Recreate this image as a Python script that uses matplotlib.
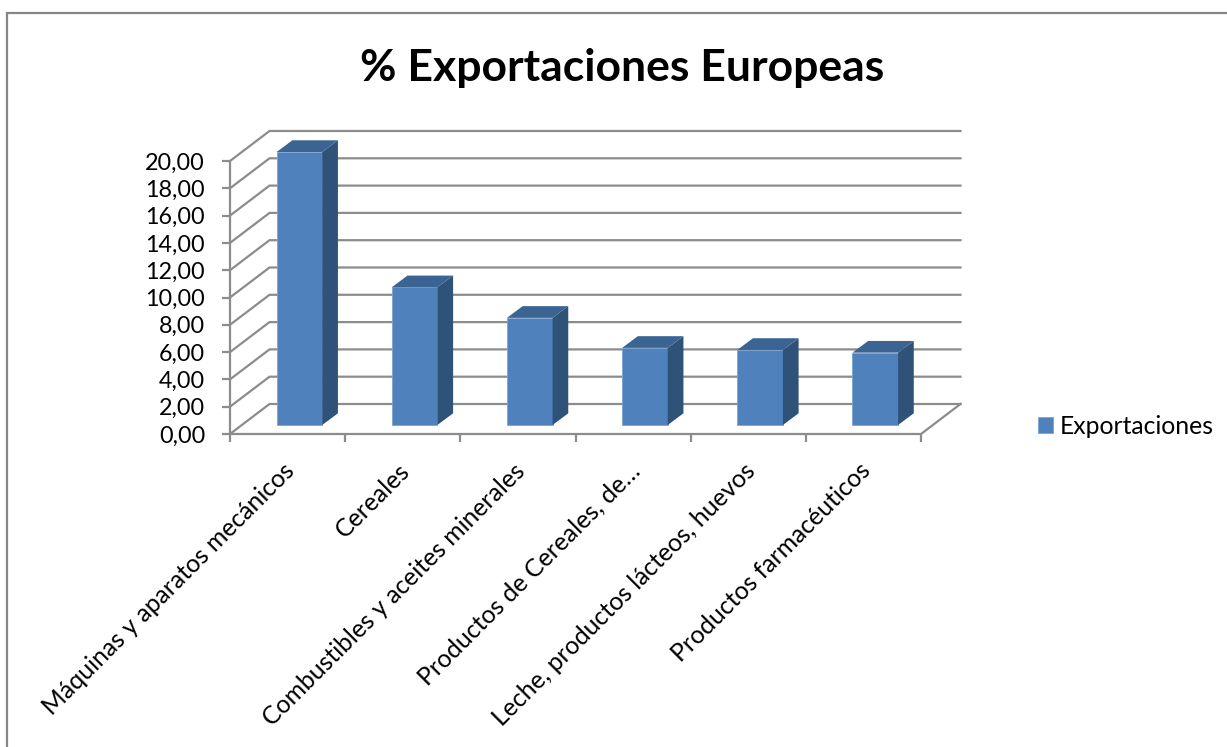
import numpy as np
from matplotlib import pyplot as plt
from matplotlib.patches import Rectangle
from matplotlib.transforms import ScaledTranslation

categories = ['Máquinas y aparatos mecánicos', 'Cereales', 'Combustibles y aceites minerales',
              'Productos de Cereales, de…', 'Leche, productos lácteos, huevos', 'Productos farmacéuticos']
values = [20.0, 10.09, 7.85, 5.65, 5.5, 5.3]
y_ticks = [0, 2, 4, 6, 8, 10, 12, 14, 16, 18, 20]
y_labels = ['0,00', '2,00', '4,00', '6,00', '8,00', '10,00', '12,00', '14,00', '16,00', '18,00', '20,00']

W, H = 1227, 747
GREY = '#8c8c8c'
FRONT = '#4f81bd'
SIDE = '#2f5279'
TOP = '#3b6493'

plt.rcParams['font.family'] = ['Lato', 'DejaVu Sans']

fig = plt.figure(figsize=(W / 100, H / 100), dpi=100)

# outer chart frame
fig.add_artist(Rectangle((6.5 / W, -0.02), (W + 20) / W, 1.02 - 12.5 / H, transform=fig.transFigure,
                         fill=False, ec='#868686', lw=1.6))

# front plane is x 230..921 px, y 434..161 px, depth goes off to the upper right
left, right, y0_px, top_px = 230, 961, 434, 131
ax = fig.add_axes([left / W, 1 - y0_px / H, (right - left) / W, (y0_px - top_px) / H])
cat_px = (921 - 230) / 6
unit_px = 27.3 / 2
depth_x = 39.5 / cat_px
depth_y = 30 / unit_px
ax.set_xlim(0, (right - left) / cat_px)
ax.set_ylim(0, (y0_px - top_px) / unit_px)
ax.patch.set_alpha(0)
for s in ax.spines.values():
    s.set_visible(False)

# walls and floor
n = len(categories)
for v in y_ticks:
    ax.plot([0, depth_x, n + depth_x], [v, v + depth_y, v + depth_y], color=GREY, lw=1.6,
            clip_on=False, solid_joinstyle='miter', zorder=1)
ax.plot([0, 0], [0, y_ticks[-1]], color=GREY, lw=1.6, clip_on=False, zorder=1)
ax.plot([0, n, n + depth_x], [0, 0, depth_y], color=GREY, lw=1.6, clip_on=False, zorder=1)

# bars, sit 0.3 of the way into the depth
bar_w = 45.6 / cat_px
start = 0.3
bar_dx = 15.7 / cat_px
bar_dy = 11.7 / unit_px
x_pos = np.arange(n) + 0.5 + start * depth_x
base = start * depth_y
bars = ax.bar(x_pos, values, width=bar_w, bottom=base, color=FRONT, ec='#7ea3d0', lw=0.6,
              label='Exportaciones', zorder=3, clip_on=False)
for x, v in zip(x_pos, values):
    x1 = x + bar_w / 2
    x0 = x - bar_w / 2
    t = base + v
    ax.fill([x1, x1 + bar_dx, x1 + bar_dx, x1], [base, base + bar_dy, t + bar_dy, t],
            color=SIDE, lw=0, zorder=3, clip_on=False)
    ax.fill([x0, x1, x1 + bar_dx, x0 + bar_dx], [t, t, t + bar_dy, t + bar_dy],
            color=TOP, lw=0, zorder=3, clip_on=False)

ax.set_yticks(y_ticks, y_labels, fontsize=16.8)
ax.tick_params(axis='y', length=6, width=1.6, color=GREY, pad=12, labelcolor='black')
ax.set_xticks(np.arange(n + 1), [''] * (n + 1))
ax.tick_params(axis='x', which='major', length=6, width=1.6, color=GREY)
ax.set_xticks(np.arange(n) + 0.5, categories, minor=True, fontsize=17.8, rotation=45,
              ha='right', va='top', rotation_mode='anchor')
ax.tick_params(axis='x', which='minor', length=0, pad=18)
offset = ScaledTranslation(-5 / 100, 0, fig.dpi_scale_trans)
for lab in ax.get_xticklabels(minor=True):
    lab.set_transform(lab.get_transform() + offset)

fig.text(622.5 / W, 1 - 68 / H, '% Exportaciones Europeas', ha='center', va='center',
         fontsize=32, fontweight='bold', color='black')

fig.legend(handles=[bars], labels=['Exportaciones'], loc='center left',
           bbox_to_anchor=(1038 / W, 1 - 426 / H), frameon=False, fontsize=17.8, borderpad=0,
           borderaxespad=0, handlelength=0.62, handleheight=0.62, handletextpad=0.28)

fig.savefig('out.png', dpi=100)
